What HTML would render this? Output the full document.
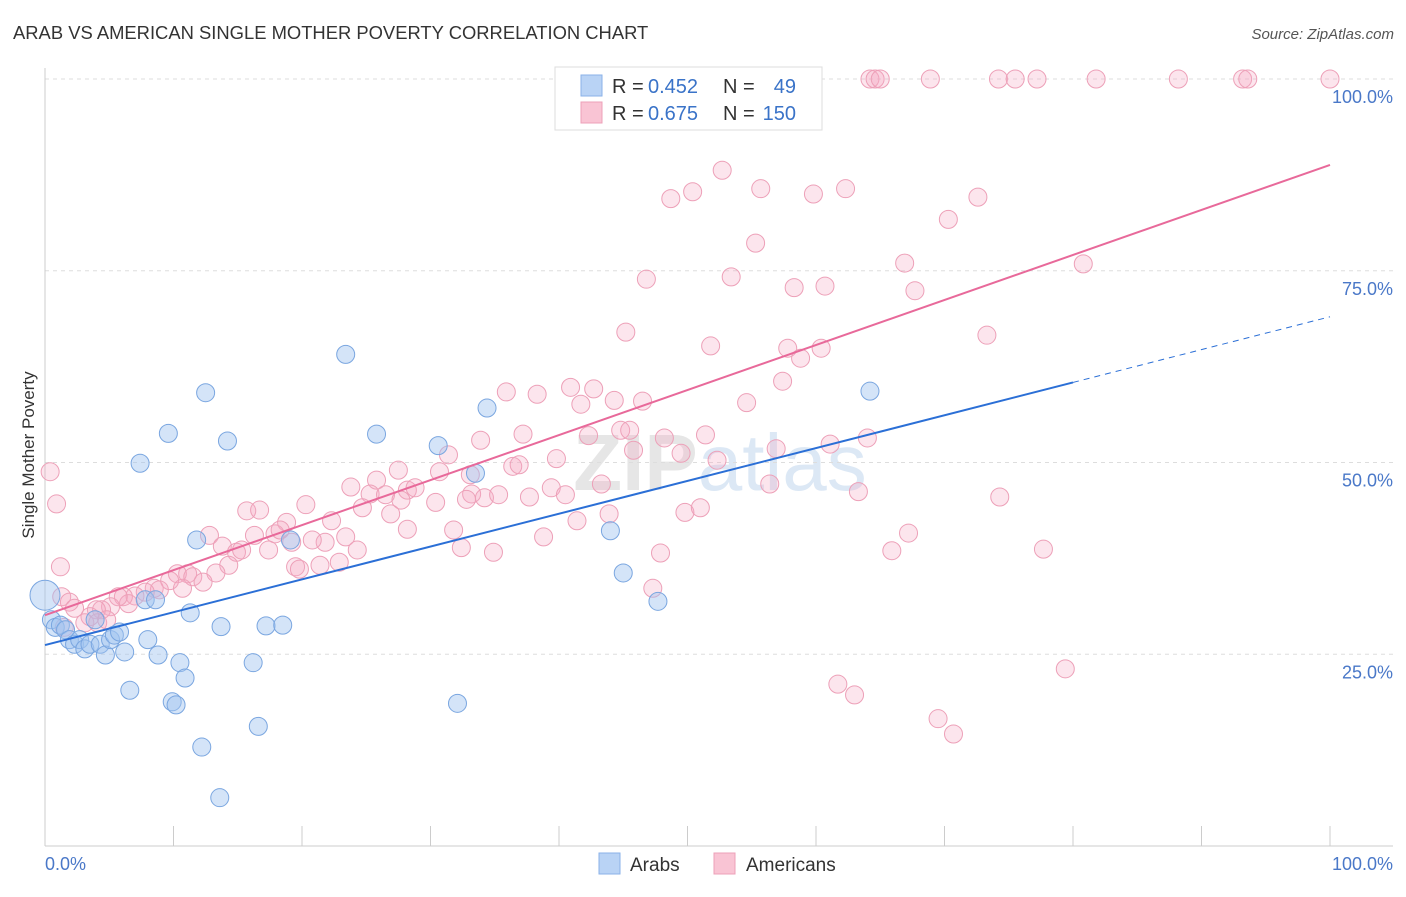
<!DOCTYPE html>
<html><head><meta charset="utf-8"><style>
body{margin:0;background:#fff;font-family:"Liberation Sans",sans-serif}
svg text{font-family:"Liberation Sans",sans-serif}
</style></head><body>
<svg id="chart" width="1406" height="892" viewBox="0 0 1406 892" xmlns="http://www.w3.org/2000/svg">
<text x="13" y="39" font-size="18.4" fill="#333">ARAB VS AMERICAN SINGLE MOTHER POVERTY CORRELATION CHART</text>
<text x="1394" y="39" font-size="15" fill="#555" text-anchor="end" font-style="italic">Source: ZipAtlas.com</text>
<text transform="translate(34,455) rotate(-90)" font-size="17" fill="#333" text-anchor="middle">Single Mother Poverty</text>
<text x="720" y="490" font-size="80" fill="#e6e6e6" text-anchor="middle" font-weight="bold">ZIP<tspan fill="#dce8f5" font-weight="normal">atlas</tspan></text>
<g id="grid"></g>
<g id="axes"></g>
<g id="pts"></g>
<g id="lines"></g>
<g>
<rect x="555" y="67" width="267" height="63" fill="#fff" stroke="#ddd"/>
<rect x="581" y="75" width="21" height="21" fill="#b9d3f5" stroke="#8ab2e8"/>
<rect x="581" y="102" width="21" height="21" fill="#f9c4d4" stroke="#eda0b8"/>
<text x="612" y="93" font-size="20" fill="#333">R =</text>
<text x="648" y="93" font-size="20" fill="#3a73c8">0.452</text>
<text x="723" y="93" font-size="20" fill="#333">N =</text>
<text x="796" y="93" font-size="20" fill="#3a73c8" text-anchor="end">49</text>
<text x="612" y="120" font-size="20" fill="#333">R =</text>
<text x="648" y="120" font-size="20" fill="#3a73c8">0.675</text>
<text x="723" y="120" font-size="20" fill="#333">N =</text>
<text x="796" y="120" font-size="20" fill="#3a73c8" text-anchor="end">150</text>
</g>
<g>
<rect x="599" y="853" width="21" height="21" fill="#b9d3f5" stroke="#8ab2e8"/>
<text x="630" y="871" font-size="19" fill="#333">Arabs</text>
<rect x="714" y="853" width="21" height="21" fill="#f9c4d4" stroke="#eda0b8"/>
<text x="746" y="871" font-size="19" fill="#333">Americans</text>
</g>
</svg>
<script>
const yTicks=[25,50,75,100];
const yTickLabels=["25.0%","50.0%","75.0%","100.0%"];
const xTicks=[0,10,20,30,40,50,60,70,80,90,100];
const arabX=[0,0.5,0.8,1.2,1.6,1.9,2.3,2.7,3.1,3.5,3.9,4.3,4.7,5.1,5.4,5.8,6.2,6.6,7.4,7.8,8.0,8.6,8.8,9.6,9.9,10.2,10.5,10.9,11.3,11.8,12.2,12.5,13.6,13.7,14.2,16.2,16.6,17.2,18.5,19.1,23.4,25.8,30.6,32.1,33.5,34.4,44.0,45.0,47.7,64.2];
const arabY=[32.7,29.5,28.5,28.8,28.2,26.9,26.3,26.9,25.7,26.3,29.5,26.3,24.9,26.9,27.5,27.9,25.3,20.3,49.9,32.1,26.9,32.1,24.9,53.8,18.8,18.4,23.9,21.9,30.4,39.9,12.9,59.1,6.3,28.6,52.8,23.9,15.6,28.7,28.8,39.9,64.1,53.7,52.2,18.6,48.6,57.1,41.1,35.6,31.9,59.3];
const arabSize=[15,9,9,9,9,9,9,9,9,9,9,9,9,9,9,9,9,9,9,9,9,9,9,9,9,9,9,9,9,9,9,9,9,9,9,9,9,9,9,9,9,9,9,9,9,9,9,9,9,9];
const amerX=[54.1,54.3,64.2,64.6,65.0,68.9,74.2,75.5,77.2,81.8,88.2,93.2,93.6,100,52.7,48.7,50.4,55.7,59.8,62.3,72.6,70.3,55.3,46.8,53.4,66.9,80.8,58.3,60.7,67.7,45.2,51.8,57.8,60.4,73.3,58.8,57.4,40.9,42.7,35.9,38.3,41.7,44.3,46.5,54.6,37.2,33.9,42.3,44.8,48.2,51.4,56.9,61.1,64.0,45.8,49.5,52.3,31.4,39.8,30.7,33.1,27.5,28.2,36.4,36.9,23.8,25.8,25.3,26.5,27.7,28.8,30.4,33.2,32.8,34.2,35.3,39.4,40.5,43.3,56.4,37.7,20.3,24.7,26.9,15.7,16.7,18.8,22.3,28.2,31.8,38.8,41.4,43.9,49.8,51.0,63.3,12.8,16.3,17.9,18.3,19.2,21.8,20.8,23.4,32.4,34.9,24.3,13.8,14.9,15.3,17.4,14.3,21.4,19.5,19.8,22.9,13.3,47.9,65.9,67.2,77.7,11.1,10.3,11.5,12.3,9.7,10.7,8.5,8.9,7.8,7.0,6.1,6.5,5.7,5.1,4.4,4.0,3.5,3.1,4.1,4.8,1.3,1.9,2.3,1.2,0.4,0.9,47.3,61.7,63.0,69.5,70.7,79.4,74.3,45.5,1.5];
const amerY=[100,100,100,100,100,100,100,100,100,100,100,100,100,100,88.1,84.4,85.3,85.7,85.0,85.7,84.6,81.7,78.6,73.9,74.2,76.0,75.9,72.8,73.0,72.4,67.0,65.2,64.9,64.9,66.6,63.6,60.6,59.8,59.6,59.2,58.9,57.6,58.1,58.0,57.8,53.7,52.9,53.5,54.2,53.2,53.6,51.8,52.4,53.2,51.6,51.2,50.3,51.0,50.5,48.8,48.4,49.0,46.4,49.5,49.7,46.8,47.7,45.9,45.8,45.1,46.7,44.8,45.9,45.2,45.4,45.8,46.7,45.8,47.2,47.2,45.5,44.5,44.1,43.3,43.7,43.8,42.2,42.4,41.3,41.2,40.3,42.4,43.3,43.5,44.1,46.2,40.5,40.5,40.7,41.2,39.6,39.6,39.9,40.3,38.9,38.3,38.6,39.1,38.3,38.6,38.6,36.6,36.6,36.4,36.1,37.0,35.6,38.2,38.5,40.8,38.7,35.5,35.5,35.1,34.4,34.6,33.6,33.6,33.4,33.1,32.6,32.5,31.6,32.5,31.2,30.8,30.8,29.9,29.1,29.1,29.5,32.5,31.8,31.0,36.4,48.8,44.6,33.6,21.1,19.7,16.6,14.6,23.1,45.5,54.2,28.5];
const arabFit=[26.2,69.0];
const arabFitEnd=80;
const amerFit=[30.1,88.8];
const NS="http://www.w3.org/2000/svg";
const X0=45,X1=1330,Y0=846,Y1=79;
function sx(v){return X0+(X1-X0)*v/100;}
function sy(v){return Y0-(Y0-Y1)*v/100;}
function mk(tag,attrs,parent){const e=document.createElementNS(NS,tag);for(const k in attrs)e.setAttribute(k,attrs[k]);parent.appendChild(e);return e;}
const grid=document.getElementById('grid'),axes=document.getElementById('axes'),pts=document.getElementById('pts'),lines=document.getElementById('lines');
yTicks.forEach((t,i)=>{
  const l=mk('line',{x1:X0,x2:1393,y1:sy(t),y2:sy(t),stroke:'#ddd','stroke-dasharray':'4,4'},grid);
  
  
  const tx=mk('text',{x:1393,y:sy(t)+24,'font-size':18,fill:'#4a78c8','text-anchor':'end'},axes);
  tx.textContent=yTickLabels[i];
  
  
});
const ya=mk('line',{x1:X0,x2:X0,y1:68,y2:Y0,stroke:'#ccc'},axes);


const xa=mk('line',{x1:X0,x2:1393,y1:Y0,y2:Y0,stroke:'#ccc'},axes);


xTicks.forEach(t=>{
  const k=mk('line',{x1:sx(t),x2:sx(t),y1:Y0,y2:Y0-20,stroke:'#ccc'},axes);
  
  
});
const xl0=mk('text',{x:45,y:870,'font-size':18,fill:'#4a78c8'},axes);xl0.textContent='0.0%';


const xl1=mk('text',{x:1393,y:870,'font-size':18,fill:'#4a78c8','text-anchor':'end'},axes);xl1.textContent='100.0%';


amerX.forEach((v,i)=>{
  const c=mk('circle',{cx:sx(v),cy:sy(amerY[i]),r:9,fill:'rgba(245,170,195,0.3)',stroke:'#eda0b8','stroke-width':1},pts);
  
  
});
arabX.forEach((v,i)=>{
  const c=mk('circle',{cx:sx(v),cy:sy(arabY[i]),r:arabSize[i],fill:'rgba(160,195,240,0.45)',stroke:'#7aa6e0','stroke-width':1},pts);
  
  
});
function fy(f,x){return f[0]+(f[1]-f[0])*x/100;}
const bl=mk('line',{x1:sx(0),y1:sy(fy(arabFit,0)),x2:sx(arabFitEnd),y2:sy(fy(arabFit,arabFitEnd)),stroke:'#2b6fd6','stroke-width':2},lines);


const bd=mk('line',{x1:sx(arabFitEnd),y1:sy(fy(arabFit,arabFitEnd)),x2:sx(100),y2:sy(fy(arabFit,100)),stroke:'#2b6fd6','stroke-width':1,'stroke-dasharray':'6,5'},lines);


const pl=mk('line',{x1:sx(0),y1:sy(fy(amerFit,0)),x2:sx(100),y2:sy(fy(amerFit,100)),stroke:'#e8699a','stroke-width':2},lines);


</script>
</body></html>
